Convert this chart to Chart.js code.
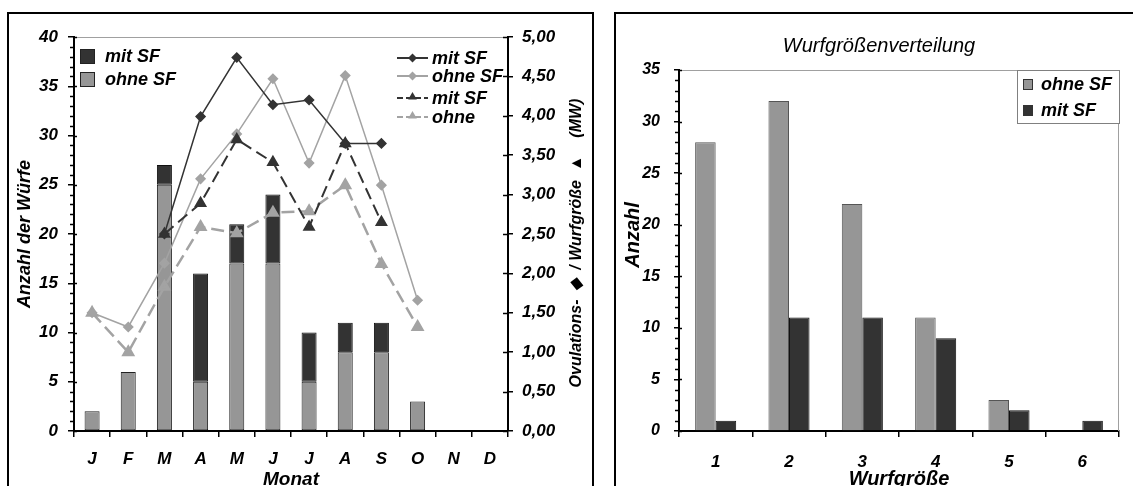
<!DOCTYPE html>
<html><head><meta charset="utf-8">
<script src="https://cdn.jsdelivr.net/npm/chart.js"></script>
<style>
html,body{margin:0;padding:0;background:#fff;}
body{width:1133px;height:486px;overflow:hidden;position:relative;}
.frame{position:absolute;border:2px solid #000;box-sizing:border-box;}
#f1{left:7px;top:12px;width:587px;height:500px;}
#f2{left:614px;top:12px;width:540px;height:500px;}
canvas{position:absolute;top:0;}
#c1{left:0;}
#c2{left:600px;}
</style></head>
<body>
<div class="frame" id="f1"></div>
<div class="frame" id="f2"></div>
<canvas id="c1" width="600" height="500"></canvas>
<canvas id="c2" width="533" height="500"></canvas>
<script>
// ---------- data: left chart ----------
const months = ['J','F','M','A','M','J','J','A','S','O','N','D'];
const litterOhneSF = [2,6,25,5,17,17,5,8,8,3,0,0];
const litterMitSF  = [0,0,2,11,4,7,5,3,3,0,0,0];
const ovuMitSF  = [null,null,2.50,3.99,4.74,4.14,4.20,3.65,3.65,null,null,null];
const ovuOhneSF = [1.50,1.32,2.13,3.20,3.77,4.47,3.40,4.51,3.12,1.66,null,null];
const wgMitSF   = [null,null,2.50,2.89,3.70,3.41,2.59,3.65,2.65,null,null,null];
const wgOhneSF  = [1.50,1.00,1.83,2.59,2.51,2.77,2.79,3.12,2.12,1.32,null,null];
const leftAxisMax = 40, leftAxisStep = 5;
const rightAxisMax = 5, rightAxisStep = 0.5;

// ---------- data: right chart ----------
const litterSizes = ['1','2','3','4','5','6'];
const distOhneSF = [28,32,22,11,3,0];
const distMitSF  = [1,11,11,9,2,1];
const distAxisMax = 35, distAxisStep = 5;

const FAM = "'Liberation Sans', Arial, sans-serif";
const fnt = (size, weight) => ({family: FAM, size: size, weight: weight || 'bold', style: 'italic'});
const cssF = (size, weight) => 'italic ' + (weight || 'bold') + ' ' + size + 'px ' + FAM;
const DARK = '#333333', GRAY = '#969696', LGRAY = '#a3a3a3';

function diamond(ctx, x, y, r){ ctx.beginPath(); ctx.moveTo(x, y-r); ctx.lineTo(x+r, y); ctx.lineTo(x, y+r); ctx.lineTo(x-r, y); ctx.closePath(); ctx.fill(); }
function tri(ctx, x, y, r){ ctx.beginPath(); ctx.moveTo(x, y-r); ctx.lineTo(x+r*0.866, y+r*0.5); ctx.lineTo(x-r*0.866, y+r*0.5); ctx.closePath(); ctx.fill(); }

// ---------- left chart ----------
const leftDecor = {
  id: 'leftDecor',
  beforeDatasetsDraw(chart){
    const {ctx, chartArea: a} = chart;
    ctx.save(); ctx.strokeStyle = '#a0a0a0'; ctx.lineWidth = 1;
    ctx.beginPath(); ctx.moveTo(a.left, a.top + 0.5); ctx.lineTo(a.right, a.top + 0.5); ctx.stroke();
    ctx.restore();
  },
  afterDraw(chart){
    const {ctx, chartArea: a, scales} = chart;
    const y = scales.y, y1 = scales.y1;
    ctx.save();
    ctx.strokeStyle = '#000'; ctx.lineWidth = 1.5;
    for (let v = 0; v <= leftAxisMax; v++){
      const py = Math.round(y.getPixelForValue(v)) + 0.5;
      ctx.beginPath();
      if (v % leftAxisStep === 0){ ctx.moveTo(a.left, py); ctx.lineTo(a.left + 3, py); }
      else { ctx.moveTo(a.left - 4, py); ctx.lineTo(a.left, py); }
      ctx.stroke();
    }
    for (let v = 0; v <= rightAxisMax + 1e-9; v += rightAxisStep){
      const py = Math.round(y1.getPixelForValue(v)) + 0.5;
      ctx.beginPath(); ctx.moveTo(a.right - 5, py); ctx.lineTo(a.right, py); ctx.stroke();
    }
    // bar legend
    ctx.textBaseline = 'middle'; ctx.textAlign = 'left'; ctx.font = cssF(18);
    const barLeg = [[DARK, 'mit SF', 56], [GRAY, 'ohne SF', 79]];
    barLeg.forEach(([c, t, yy]) => {
      ctx.fillStyle = c; ctx.fillRect(80, yy - 7, 15, 15);
      ctx.strokeStyle = '#222'; ctx.lineWidth = 1; ctx.strokeRect(80.5, yy - 6.5, 14, 14);
      ctx.fillStyle = '#000'; ctx.fillText(t, 105, yy + 1);
    });
    // line legend
    const lineLeg = [
      [DARK, 'mit SF', 58, 'd', []],
      [LGRAY, 'ohne SF', 76, 'd', []],
      [DARK, 'mit SF', 98, 't', [6,3]],
      [LGRAY, 'ohne', 117, 't', [6,3]]
    ];
    lineLeg.forEach(([c, t, yy, m, dash]) => {
      ctx.strokeStyle = c; ctx.lineWidth = 2; ctx.setLineDash(dash);
      ctx.beginPath(); ctx.moveTo(397, yy); ctx.lineTo(428, yy); ctx.stroke();
      ctx.setLineDash([]);
      ctx.fillStyle = c;
      if (m === 'd') diamond(ctx, 412.5, yy, 4.5); else tri(ctx, 412.5, yy - 1, 5);
      ctx.fillStyle = '#000'; ctx.fillText(t, 432, yy + 1);
    });
    // right axis title (reads bottom-to-top)
    ctx.save();
    ctx.translate(577, 243); ctx.rotate(-Math.PI / 2);
    ctx.textAlign = 'center'; ctx.font = cssF(16); ctx.fillStyle = '#000';
    ctx.fillText('Ovulations-  \u25C6  / Wurfgröße  \u25B2    (MW)', 0, 0);
    ctx.restore();
    ctx.restore();
  }
};

new Chart(document.getElementById('c1'), {
  type: 'bar',
  data: {
    labels: months,
    datasets: [
      {type: 'line', label: 'mit SF', data: ovuMitSF, yAxisID: 'y1', order: 1,
       borderColor: DARK, backgroundColor: DARK, borderWidth: 1.5, pointStyle: 'rectRot', pointRadius: 4.5, tension: 0},
      {type: 'line', label: 'ohne SF', data: ovuOhneSF, yAxisID: 'y1', order: 2,
       borderColor: LGRAY, backgroundColor: LGRAY, borderWidth: 1.5, pointStyle: 'rectRot', pointRadius: 4.5, tension: 0},
      {type: 'line', label: 'mit SF', data: wgMitSF, yAxisID: 'y1', order: 1,
       borderColor: DARK, backgroundColor: DARK, borderWidth: 2, borderDash: [12,6], pointStyle: 'triangle', pointRadius: 5.5, tension: 0},
      {type: 'line', label: 'ohne', data: wgOhneSF, yAxisID: 'y1', order: 2,
       borderColor: LGRAY, backgroundColor: LGRAY, borderWidth: 2.5, borderDash: [13,6], pointStyle: 'triangle', pointRadius: 5.5, tension: 0},
      {label: 'ohne SF', data: litterOhneSF, yAxisID: 'y', stack: 's', order: 10,
       backgroundColor: GRAY, borderColor: '#222', borderWidth: 1, borderSkipped: false,
       categoryPercentage: 1, barPercentage: 0.415},
      {label: 'mit SF', data: litterMitSF, yAxisID: 'y', stack: 's', order: 10,
       backgroundColor: DARK, borderColor: '#111', borderWidth: 1, borderSkipped: false,
       categoryPercentage: 1, barPercentage: 0.415}
    ]
  },
  options: {
    responsive: false, animation: false, devicePixelRatio: 1,
    layout: {padding: {top: 37, left: 0, right: 0, bottom: 0}},
    plugins: {legend: {display: false}, tooltip: {enabled: false}},
    scales: {
      x: {
        stacked: true,
        grid: {offset: true, drawOnChartArea: false, tickLength: 6, color: '#000', lineWidth: 1.5},
        border: {color: '#000', width: 2},
        ticks: {font: fnt(17), color: '#000', padding: 12},
        title: {display: true, text: 'Monat', font: fnt(19), color: '#000', padding: {top: 0, bottom: 9}},
        afterFit(s){ s.height = 69; }
      },
      y: {
        position: 'left', stacked: true, min: 0, max: leftAxisMax,
        grid: {drawOnChartArea: false, tickLength: 6, color: '#000', lineWidth: 1.5},
        border: {color: '#000', width: 2},
        ticks: {stepSize: leftAxisStep, font: fnt(17), color: '#000', padding: 10},
        title: {display: true, text: 'Anzahl der Würfe', font: fnt(18), color: '#000', padding: {top: 14, bottom: 0}},
        afterFit(s){ s.width = 74; }
      },
      y1: {
        position: 'right', min: 0, max: rightAxisMax,
        grid: {drawOnChartArea: false, tickLength: 5, color: '#000', lineWidth: 1.5},
        border: {color: '#000', width: 2},
        ticks: {stepSize: rightAxisStep, font: fnt(17), color: '#000', padding: 9,
                callback: v => Number(v).toFixed(2).replace('.', ',')},
        afterFit(s){ s.width = 92; }
      }
    }
  },
  plugins: [leftDecor]
});

// ---------- right chart ----------
const rightDecor = {
  id: 'rightDecor',
  beforeDatasetsDraw(chart){
    const {ctx, chartArea: a} = chart;
    ctx.save(); ctx.strokeStyle = '#a0a0a0'; ctx.lineWidth = 1;
    ctx.beginPath(); ctx.moveTo(a.left, a.top + 0.5); ctx.lineTo(a.right - 0.5, a.top + 0.5); ctx.lineTo(a.right - 0.5, a.bottom); ctx.stroke();
    ctx.restore();
  },
  afterDraw(chart){
    const {ctx, chartArea: a, scales} = chart;
    const y = scales.y;
    ctx.save();
    ctx.strokeStyle = '#000'; ctx.lineWidth = 1.5;
    for (let v = 0; v <= distAxisMax; v++){
      const py = Math.round(y.getPixelForValue(v)) + 0.5;
      ctx.beginPath();
      if (v % distAxisStep === 0){ ctx.moveTo(a.left, py); ctx.lineTo(a.left + 3, py); }
      else { ctx.moveTo(a.left - 4, py); ctx.lineTo(a.left, py); }
      ctx.stroke();
    }
    // title
    ctx.fillStyle = '#000'; ctx.textAlign = 'center'; ctx.textBaseline = 'middle';
    ctx.font = cssF(20, 'normal');
    ctx.fillText('Wurfgrößenverteilung', 279, 46);
    // y title
    ctx.save(); ctx.translate(33, 235); ctx.rotate(-Math.PI / 2);
    ctx.font = cssF(20); ctx.fillText('Anzahl', 0, 0); ctx.restore();
    // legend
    ctx.fillStyle = '#fff'; ctx.fillRect(417, 70, 103, 54);
    ctx.strokeStyle = '#808080'; ctx.lineWidth = 1; ctx.strokeRect(417.5, 70.5, 102, 53);
    ctx.textAlign = 'left'; ctx.font = cssF(18);
    [[GRAY, 'ohne SF', 84], [DARK, 'mit SF', 110]].forEach(([c, t, yy]) => {
      ctx.fillStyle = c; ctx.fillRect(423, yy - 5, 10, 11);
      ctx.strokeStyle = '#333'; ctx.strokeRect(423.5, yy - 4.5, 9, 10);
      ctx.fillStyle = '#000'; ctx.fillText(t, 441, yy + 1);
    });
    ctx.restore();
  }
};

new Chart(document.getElementById('c2'), {
  type: 'bar',
  data: {
    labels: litterSizes,
    datasets: [
      {label: 'ohne SF', data: distOhneSF, backgroundColor: GRAY, borderColor: '#555', borderWidth: 1, borderSkipped: 'bottom',
       categoryPercentage: 0.56, barPercentage: 1},
      {label: 'mit SF', data: distMitSF, backgroundColor: DARK, borderColor: '#111', borderWidth: 1, borderSkipped: 'bottom',
       categoryPercentage: 0.56, barPercentage: 1}
    ]
  },
  options: {
    responsive: false, animation: false, devicePixelRatio: 1,
    layout: {padding: {top: 70, left: 0, right: 14, bottom: 0}},
    plugins: {legend: {display: false}, tooltip: {enabled: false}},
    scales: {
      x: {
        grid: {offset: true, drawOnChartArea: false, tickLength: 6, color: '#000', lineWidth: 1.5},
        border: {color: '#000', width: 2},
        ticks: {font: fnt(17), color: '#000', padding: 15},
        title: {display: true, text: 'Wurfgröße', font: fnt(20), color: '#000', padding: {top: 0, bottom: 9}},
        afterFit(s){ s.height = 69; }
      },
      y: {
        min: 0, max: distAxisMax,
        grid: {drawOnChartArea: false, tickLength: 5, color: '#000', lineWidth: 1.5},
        border: {color: '#000', width: 2},
        ticks: {stepSize: distAxisStep, font: fnt(16), color: '#000', padding: 14},
        afterFit(s){ s.width = 79; }
      }
    }
  },
  plugins: [rightDecor]
});
</script>
</body></html>
